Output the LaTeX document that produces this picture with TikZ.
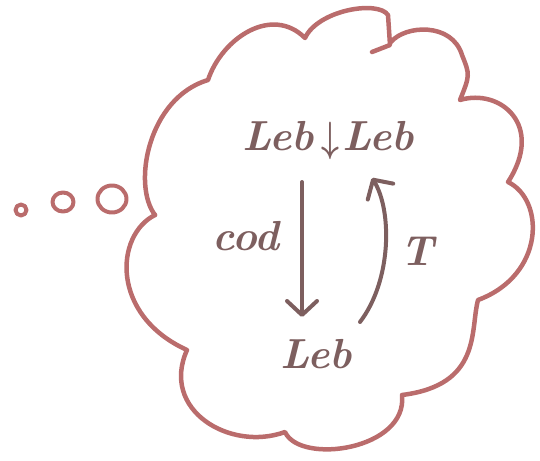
\documentclass[tikz,border=0pt]{standalone}
\usepackage{graphicx}
\usepackage{bm}
\usetikzlibrary{arrows.meta,calc}
\definecolor{cloudred}{RGB}{186,108,108}
\definecolor{inkbrown}{RGB}{125,95,95}
\newcommand{\downmark}{\raisebox{-1pt}{\scalebox{1.25}[1.7]{$\bm{\downarrow}$}}}
\begin{document}
\begin{tikzpicture}[x=1pt,y=-1pt,
  cloudline/.style={draw=cloudred,line width=4.5pt,line cap=round,line join=round},
  label/.style={text=inkbrown,inner sep=0pt,anchor=base west,font=\fontsize{42}{42}\selectfont\bfseries\itshape},
  arr/.style={draw=inkbrown,line width=4pt,line cap=round,line join=round,
    -{Straight Barb[length=14pt,width=30pt,line cap=round,line join=round]}}]
\useasboundingbox (0,0) rectangle (540,460);

% thought cloud
\draw[cloudline]
  (155,215) .. controls (132,185) and (148,98) .. (208,80)
  .. controls (222,38) and (272,5) .. (305,38)
  .. controls (318,10) and (378,0) .. (388,15)
  -- (390,45) -- (372,52);
\draw[cloudline]
  (391,42) .. controls (405,25) and (452,22) .. (462,55)
  .. controls (470,75) .. (460,100)
  .. controls (500,88) and (545,125) .. (508,182)
  .. controls (545,200) and (545,275) .. (478,300)
  .. controls (470,330) and (482,385) .. (402,395)
  .. controls (408,450) and (300,465) .. (285,432)
  .. controls (230,452) and (160,410) .. (187,350)
  .. controls (110,315) and (115,235) .. (155,215);

% trailing dots
\draw[cloudline,line width=4pt] (21,210) circle[radius=5.5];
\draw[cloudline,line width=4pt] (63,202) ellipse[x radius=10.5,y radius=9.5];
\draw[cloudline,line width=4pt] (112,199) ellipse[x radius=14.5,y radius=13.5];

% labels
\node[label] (comma) at (242,150) {Leb\kern8pt\downmark\kern3pt Leb};
\node[label] (leb) at (280,368) {Leb};
\node[label] (cod) at (212,250) {cod};
\node[label] (tt) at (400,265) {T};

% arrows
\draw[arr] ($(comma.base west)+(60,32)$) -- ($(leb.base west)+(22,-51)$);
\draw[arr] ($(leb.base west)+(80,-46)$) .. controls +(32,-42) and +(20,32) .. ($(comma.base west)+(130,28)$);
\end{tikzpicture}
\end{document}
